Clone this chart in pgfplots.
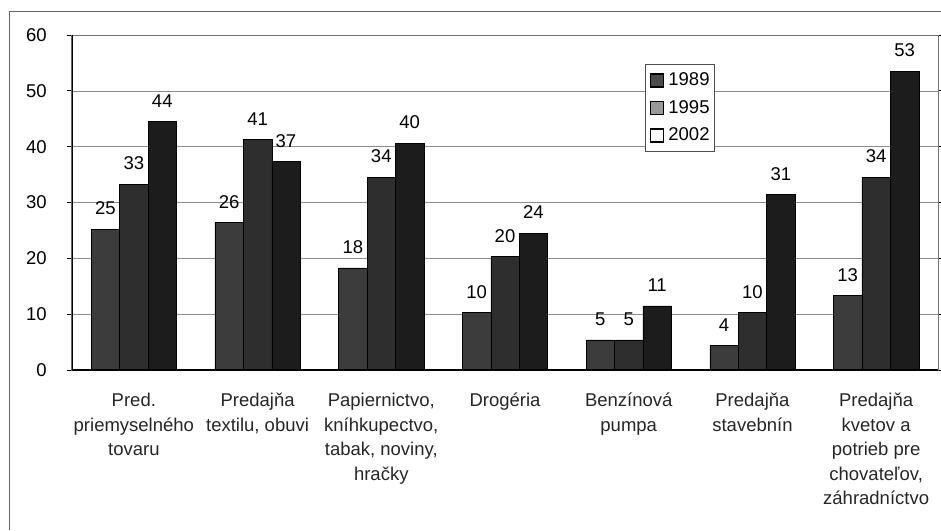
\documentclass[border=0pt]{standalone}
\usepackage{fontspec}
\setmainfont{Liberation Sans}
\usepackage{pgfplots}
\pgfplotsset{compat=1.18}
\definecolor{cA}{HTML}{3C3C3C}
\definecolor{cB}{HTML}{2E2E2E}
\definecolor{cC}{HTML}{1C1C1C}
\begin{document}
\fontsize{18.5}{25}\selectfont
\begin{tikzpicture}
\path[use as bounding box] (-72pt,-160pt) rectangle (869pt,370pt);
\draw[black!60, line width=0.8pt] (-63pt,-160pt) -- (-63pt,359pt) -- (869pt,359pt);
\begin{axis}[
  at={(0pt,0pt)}, anchor=south west,
  scale only axis, width=866pt, height=335pt,
  xmin=-0.5, xmax=6.5, ymin=0, ymax=60,
  ytick={0,10,...,60},
  ymajorgrids, grid style={black!45, line width=0.6pt},
  axis line style={black!55, line width=1pt},
  xtick={0,...,6},
  xticklabels={{Pred.\\priemyselného\\tovaru},{Predajňa\\textilu, obuvi},{Papiernictvo,\\kníhkupectvo,\\tabak, noviny,\\hračky},{Drogéria},{Benzínová\\pumpa},{Predajňa\\stavebnín},{Predajňa\\kvetov a\\potrieb pre\\chovateľov,\\záhradníctvo}},
  xticklabel style={align=center, yshift=-12pt, text=black!85, font=\fontsize{18.5}{24.5}\selectfont},
  x tick style={draw=none},
  extra x ticks={0.5,1.5,2.5,3.5,4.5,5.5},
  extra x tick labels={},
  extra x tick style={grid=none, tick align=outside, major tick length=6pt, tick style={draw=black, line width=0.8pt}},
  y tick style={draw=black, line width=0.8pt},
  tick align=outside, major tick length=5pt,
  yticklabel style={xshift=-14pt, font=\fontsize{18.5}{25}\selectfont},
  /pgf/number format/assume math mode=true,
  ybar=0pt, bar width=28.4pt,
  point meta=explicit symbolic,
  nodes near coords,
  nodes near coords style={font=\fontsize{18.5}{25}\selectfont, inner sep=0pt, anchor=south, yshift=14pt, text=black},
  legend style={at={(rel axis cs:0.662,0.913)}, anchor=north west, draw=black!70, line width=0.6pt,
    inner xsep=4pt, inner ysep=7pt, row sep=10pt, font=\fontsize{18.5}{20}\selectfont, legend cell align=left,
    nodes={inner sep=1pt}, /tikz/every odd column/.append style={column sep=3pt}},
]
\addplot[draw=black, line width=0.5pt, fill=cA,
  legend image code/.code={\draw[line width=1.8pt, fill=black!70] (0pt,-6.5pt) rectangle (13pt,6.5pt);}]
  coordinates {(0,25.2)[25] (1,26.4)[26] (2,18.3)[18] (3,10.3)[10] (4,5.4)[5] (5,4.4)[4] (6,13.3)[13]};
\addplot[draw=black, line width=0.5pt, fill=cB,
  legend image code/.code={\draw[line width=1.8pt, fill=black!40] (0pt,-6.5pt) rectangle (13pt,6.5pt);}]
  coordinates {(0,33.3)[33] (1,41.3)[41] (2,34.5)[34] (3,20.3)[20] (4,5.4)[5] (5,10.3)[10] (6,34.5)[34]};
\addplot[draw=black, line width=0.5pt, fill=cC,
  legend image code/.code={\draw[line width=1.8pt, fill=white] (0pt,-6.5pt) rectangle (13pt,6.5pt);}]
  coordinates {(0,44.5)[44] (1,37.3)[37] (2,40.6)[40] (3,24.5)[24] (4,11.5)[11] (5,31.4)[31] (6,53.5)[53]};
\legend{1989,1995,2002}
\draw[black, line width=1.2pt] (rel axis cs:0,1) -- (rel axis cs:0,0) -- (rel axis cs:1,0);
\end{axis}
\end{tikzpicture}
\end{document}
